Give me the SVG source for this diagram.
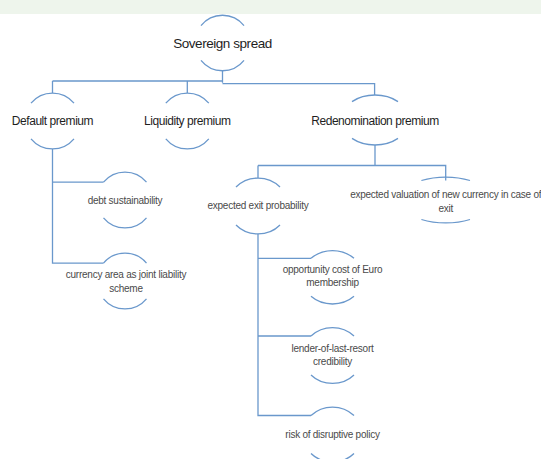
<svg xmlns="http://www.w3.org/2000/svg" width="541" height="459" viewBox="0 0 541 459">
<style>
.arc{fill:none;stroke:#6a98cc;stroke-width:1.3}
.ln{fill:none;stroke:#6a98cc;stroke-width:1.3}
.t0{font-family:"Liberation Sans",Arial,sans-serif;font-size:13.5px;fill:#1e1e1e;text-anchor:middle;letter-spacing:-0.45px}
.t1{font-family:"Liberation Sans",Arial,sans-serif;font-size:12px;fill:#1e1e1e;text-anchor:middle;letter-spacing:-0.45px}
.t2{font-family:"Liberation Sans",Arial,sans-serif;font-size:10px;fill:#4a4a4a;text-anchor:middle;letter-spacing:-0.25px}
</style>
<rect x="0" y="0" width="541" height="14" fill="#eef5ec"/>
<g id="connectors">
<path class="ln" d="M222.5,70 V82.7 M52.5,81 H222.5 M52.5,81 V93 M187.3,81 V93 M222.5,83.7 H374.6 V95"/>
<path class="ln" d="M52.5,149 V263.1 H103.5 M52.5,182.1 H103.5"/>
<path class="ln" d="M375,145 V165.5 M258,165.5 H445.7 V180.5 M258,165.5 V178"/>
<path class="ln" d="M258,234 V415.5 H311 M258,258.3 H311 M258,336 H311"/>
</g>
<g id="n-sovereign">
<path class="arc" d="M201,25.6 A27.5,27.5 0 0 1 244,25.6 M201,60.4 A27.5,27.5 0 0 0 244,60.4"/>
<text class="t0" x="222.5" y="47.8">Sovereign spread</text>
</g>
<g id="n-default">
<path class="arc" d="M31,103.1 A28,28 0 0 1 74,103.1 M31,138.9 A28,28 0 0 0 74,138.9"/>
<text class="t1" x="52.5" y="125.3">Default premium</text>
</g>
<g id="n-liquidity">
<path class="arc" d="M165.8,103.1 A28,28 0 0 1 208.8,103.1 M165.8,138.9 A28,28 0 0 0 208.8,138.9"/>
<text class="t1" x="187.3" y="125.3">Liquidity premium</text>
</g>
<g id="n-redenomination">
<path class="arc" d="M352,101.6 A34,25 0 0 1 398,101.6 M352,138.4 A34,25 0 0 0 398,138.4"/>
<text class="t1" x="375" y="124.5">Redenomination premium</text>
</g>
<g id="n-debt">
<path class="arc" d="M103.5,182.1 A28,28 0 0 1 146.5,182.1 M103.5,217.9 A28,28 0 0 0 146.5,217.9"/>
<text class="t2" x="125" y="203.5">debt sustainability</text>
</g>
<g id="n-currency">
<path class="arc" d="M103.5,263.1 A28,28 0 0 1 146.5,263.1 M103.5,298.9 A28,28 0 0 0 146.5,298.9"/>
<text class="t2" x="126" y="277.5">currency area as joint liability</text>
<text class="t2" x="126" y="291.8">scheme</text>
</g>
<g id="n-exit">
<path class="arc" d="M236,187 A30,28 0 0 1 280,187 M236,225 A30,28 0 0 0 280,225"/>
<text class="t2" x="258" y="209.2">expected exit probability</text>
</g>
<g id="n-valuation">
<path class="arc" d="M421.4,180.5 A46,23 0 0 1 470,180.5 M421.4,219.5 A46,23 0 0 0 470,219.5"/>
<text class="t2" x="445.7" y="197.5">expected valuation of new currency in case of</text>
<text class="t2" x="445.7" y="211.8">exit</text>
</g>
<g id="n-opportunity">
<path class="arc" d="M311,258.3 A30.6,26.7 0 0 1 354,258.3 M311,296.3 A30.6,26.7 0 0 0 354,296.3"/>
<text class="t2" x="332.5" y="272.8">opportunity cost of Euro</text>
<text class="t2" x="332.5" y="286.2">membership</text>
</g>
<g id="n-lender">
<path class="arc" d="M311,336 A30,28 0 0 1 354,336 M311,375 A30,28 0 0 0 354,375"/>
<text class="t2" x="332.5" y="351.8">lender-of-last-resort</text>
<text class="t2" x="332.5" y="365.2">credibility</text>
</g>
<g id="n-risk">
<path class="arc" d="M311,415.5 A30,28 0 0 1 354,415.5 M311,453.5 A30,28 0 0 0 354,453.5"/>
<text class="t2" x="332.5" y="437.5">risk of disruptive policy</text>
</g>
</svg>
